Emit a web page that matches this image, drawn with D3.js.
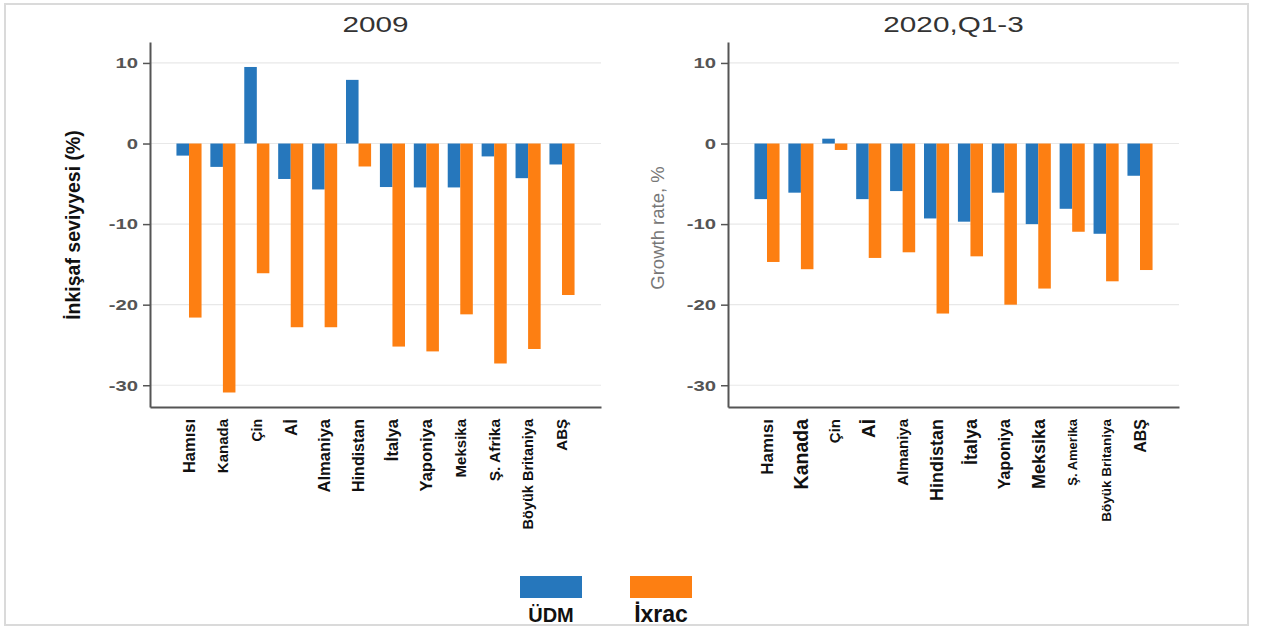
<!DOCTYPE html>
<html>
<head>
<meta charset="utf-8">
<script src="https://cdn.jsdelivr.net/npm/d3@7"></script>
<style>
  body { margin: 0; background: #fff; }
  svg { display: block; font-family: "Liberation Sans", Arial, Helvetica, sans-serif; }
</style>
</head>
<body>
<div id="chart"></div>
<script>
'use strict';
// GDP (ÜDM) and export (İxrac) growth, 2009 vs 2020 Q1-3

const countries2009 = ["Hamısı", "Kanada", "Çin", "Aİ", "Almaniya", "Hindistan", "İtalya", "Yaponiya", "Meksika", "Ş. Afrika", "Böyük Britaniya", "ABŞ"];
const countries2020 = ["Hamısı", "Kanada", "Çin", "Aİ", "Almaniya", "Hindistan", "İtalya", "Yaponiya", "Meksika", "Ş. Amerika", "Böyük Britaniya", "ABŞ"];

const gdp2009 = [-1.5, -2.9, 9.5, -4.4, -5.7, 7.9, -5.4, -5.45, -5.45, -1.6, -4.3, -2.6];
const exports2009 = [-21.6, -30.9, -16.1, -22.8, -22.8, -2.85, -25.2, -25.8, -21.2, -27.3, -25.5, -18.8];

const gdp2020 = [-6.9, -6.1, 0.6, -6.9, -5.9, -9.3, -9.7, -6.1, -10.0, -8.1, -11.2, -4.0];
const exports2020 = [-14.7, -15.6, -0.8, -14.2, -13.5, -21.1, -14.0, -20.0, -18.0, -10.95, -17.1, -15.7];

const yTicks = [10, 0, -10, -20, -30];
const seriesNames = ["ÜDM", "İxrac"];
const seriesColors = ["#2677bc", "#fd7f12"];

// label font sizes as they appear in the pasted picture
const labelSizes2009 = [16.5, 15, 14, 17, 16.5, 16, 16.5, 16.5, 15, 15.5, 14.5, 15];
const labelSizes2020 = [17, 19.5, 15, 19, 15, 18, 18, 16, 18, 13, 13.5, 16];

const width = 1262;
const height = 630;
const panelWidth = 451;
const axisBottom = 407;
// the source picture is stretched sideways, so horizontal text gets widened too
const stretch = 1.35;

const svg = d3.select("#chart")
  .append("svg")
  .attr("width", width)
  .attr("height", height);

// outer frame
svg.append("rect")
  .attr("x", 5)
  .attr("y", 4)
  .attr("width", 1243)
  .attr("height", 621)
  .attr("fill", "none")
  .attr("stroke", "#dadada")
  .attr("stroke-width", 2);

const y = d3.scaleLinear()
  .domain([-32.7, 12.6])
  .range([axisBottom, 42]);

const color = d3.scaleOrdinal()
  .domain(seriesNames)
  .range(seriesColors);

function drawPanel(opts){
  const left = opts.left;
  const g = svg.append("g");

  const x = d3.scaleBand()
    .domain(opts.categories)
    .range([left, left + panelWidth])
    .paddingInner(0.26)
    .paddingOuter(0.78);

  const xSub = d3.scaleBand()
    .domain(seriesNames)
    .range([0, x.bandwidth()]);

  // gridlines
  g.append("g")
    .selectAll("line")
    .data(yTicks)
    .enter()
    .append("line")
    .attr("x1", left)
    .attr("x2", left + panelWidth)
    .attr("y1", d => y(d))
    .attr("y2", d => y(d))
    .attr("stroke", "#e8e8e8")
    .attr("stroke-width", 1.2);

  // bars
  const rows = opts.categories.map((c, i) => ({
    country: c,
    values: [
      {series: seriesNames[0], value: opts.gdp[i]},
      {series: seriesNames[1], value: opts.exports[i]}
    ]
  }));

  g.append("g")
    .selectAll("g")
    .data(rows)
    .enter()
    .append("g")
    .attr("transform", d => `translate(${x(d.country)},0)`)
    .selectAll("rect")
    .data(d => d.values)
    .enter()
    .append("rect")
    .attr("x", d => xSub(d.series))
    .attr("width", xSub.bandwidth())
    .attr("y", d => y(Math.max(0, d.value)))
    .attr("height", d => Math.abs(y(d.value) - y(0)))
    .attr("fill", d => color(d.series));

  // y axis
  const yAxis = g.append("g")
    .attr("transform", `translate(${left},0)`)
    .call(d3.axisLeft(y).tickValues(yTicks).tickSize(7).tickSizeOuter(0).tickPadding(5).tickFormat(d => String(d)));
  yAxis.select(".domain").attr("stroke", "#555").attr("stroke-width", 2);
  yAxis.selectAll(".tick line").attr("stroke", "#555").attr("stroke-width", 1.5);
  yAxis.selectAll(".tick text")
    .attr("x", 0)
    .attr("transform", `translate(-12,0) scale(${stretch},1)`)
    .attr("fill", "#555")
    .style("font-size", "15px")
    .style("font-weight", "bold");

  // x axis line
  const xAxis = g.append("g")
    .attr("transform", `translate(0,${axisBottom})`)
    .call(d3.axisBottom(x).tickSize(0).tickSizeOuter(0).tickFormat(""));
  xAxis.select(".domain").attr("stroke", "#555").attr("stroke-width", 2);

  // rotated country labels
  g.append("g")
    .selectAll("text")
    .data(opts.categories)
    .enter()
    .append("text")
    .attr("transform", d => `translate(${x(d) + x.bandwidth() / 2},${axisBottom + 12}) rotate(-90)`)
    .attr("dy", "0.35em")
    .style("text-anchor", "end")
    .style("font-weight", "bold")
    .style("font-size", (d, i) => opts.labelSizes[i] + "px")
    .attr("fill", "#111")
    .text(d => d);

  // title
  g.append("text")
    .attr("transform", `translate(${left + panelWidth / 2},32) scale(${stretch},1)`)
    .style("text-anchor", "middle")
    .style("font-size", "22px")
    .attr("fill", "#333")
    .text(opts.title);

  // y label
  g.append("text")
    .attr("transform", `translate(${opts.yLabelX},${opts.yLabelY}) rotate(-90)`)
    .attr("dy", "0.35em")
    .style("text-anchor", "middle")
    .style("font-size", opts.yLabelSize)
    .style("font-weight", opts.yLabelWeight)
    .attr("fill", opts.yLabelColor)
    .text(opts.yLabel);
}

drawPanel({
  left: 150,
  title: "2009",
  categories: countries2009,
  gdp: gdp2009,
  exports: exports2009,
  labelSizes: labelSizes2009,
  yLabel: "İnkişaf seviyyesi (%)",
  yLabelX: 73,
  yLabelY: 225,
  yLabelSize: "19.5px",
  yLabelWeight: "bold",
  yLabelColor: "#111"
});

drawPanel({
  left: 728,
  title: "2020,Q1-3",
  categories: countries2020,
  gdp: gdp2020,
  exports: exports2020,
  labelSizes: labelSizes2020,
  yLabel: "Growth rate, %",
  yLabelX: 658,
  yLabelY: 228,
  yLabelSize: "18.5px",
  yLabelWeight: "normal",
  yLabelColor: "#777"
});

// legend
const legend = svg.append("g")
  .selectAll("g")
  .data(seriesNames)
  .enter()
  .append("g")
  .attr("transform", (d, i) => `translate(${520 + i * 110},576)`);

legend.append("rect")
  .attr("width", 62)
  .attr("height", 22)
  .attr("fill", d => color(d));

legend.append("text")
  .attr("x", 31)
  .attr("y", 46)
  .style("text-anchor", "middle")
  .style("font-weight", "bold")
  .style("font-size", (d, i) => i === 0 ? "20px" : "23px")
  .attr("fill", "#111")
  .text(d => d);
</script>
</body>
</html>
